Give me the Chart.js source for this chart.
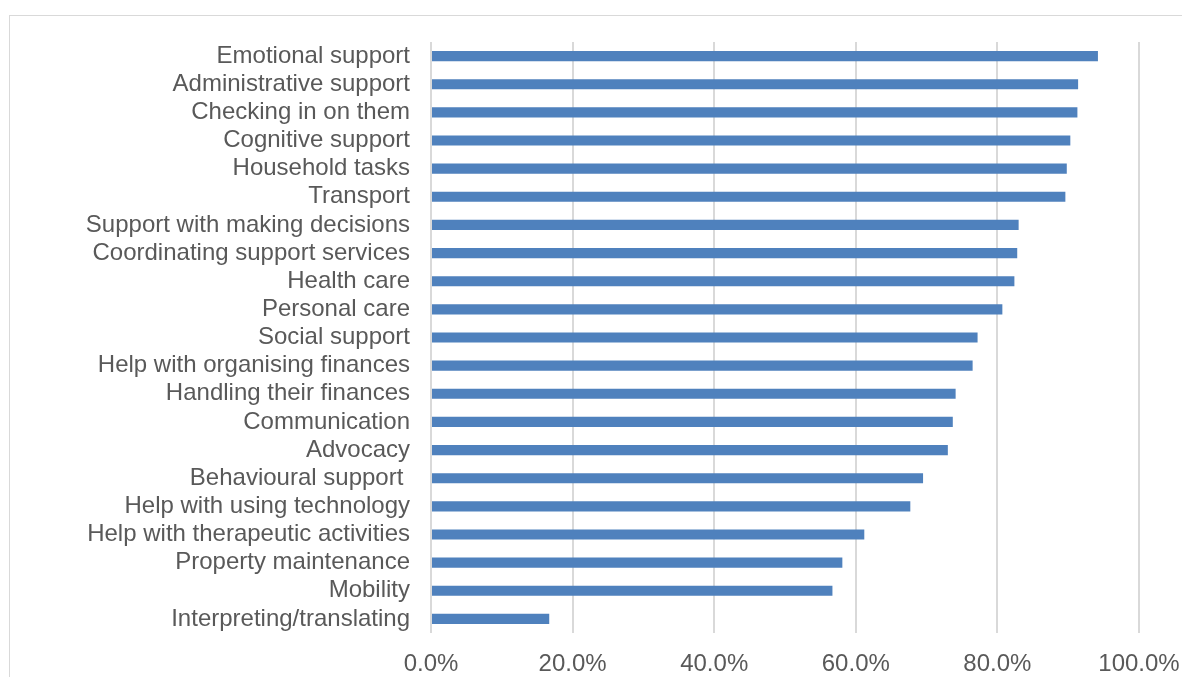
<!DOCTYPE html>
<html>
<head>
<meta charset="utf-8">
<script src="https://cdn.jsdelivr.net/npm/chart.js@4"></script>
<style>
  html, body { margin: 0; padding: 0; background: #fff; overflow: hidden; }
  #frame { position: absolute; left: 9px; top: 15px; width: 1300px; height: 800px; border: 1.5px solid #d9d9d9; }
  #wrap { position: absolute; left: 0; top: 0; width: 1182px; height: 677px; }
</style>
</head>
<body>
<div id="frame"></div>
<div id="wrap"><canvas id="mainChart"></canvas></div>
<script>
// Share of respondents for each kind of support (percent)
const categories = [
    'Emotional support',
    'Administrative support',
    'Checking in on them',
    'Cognitive support',
    'Household tasks',
    'Transport',
    'Support with making decisions',
    'Coordinating support services',
    'Health care',
    'Personal care',
    'Social support',
    'Help with organising finances',
    'Handling their finances',
    'Communication',
    'Advocacy',
    'Behavioural support ',
    'Help with using technology',
    'Help with therapeutic activities',
    'Property maintenance',
    'Mobility',
    'Interpreting/translating'
];
const values = [94.2, 91.4, 91.3, 90.3, 89.8, 89.6, 83.0, 82.8, 82.4, 80.7, 77.2, 76.5, 74.1, 73.7, 73.0, 69.5, 67.7, 61.2, 58.1, 56.7, 16.7];
const xTicks = [0, 20, 40, 60, 80, 100];

const font = { family: "'Liberation Sans', Arial, sans-serif", size: 24 };

const ctx = document.getElementById('mainChart').getContext('2d');
const myChart = new Chart(ctx, {
    type: 'bar',
    data: {
        labels: categories,
        datasets: [{
            data: values,
            backgroundColor: '#4f81bd',
            borderWidth: 0,
            barPercentage: 0.36,
            categoryPercentage: 1
        }]
    },
    options: {
        indexAxis: 'y',
        responsive: true,
        maintainAspectRatio: false,
        animation: false,
        layout: { padding: { top: 42, right: 43, left: 0, bottom: 0 } },
        plugins: { legend: { display: false }, tooltip: { enabled: false } },
        scales: {
            x: {
                min: 0,
                max: 100,
                afterBuildTicks: (axis) => { axis.ticks = xTicks.map(v => ({ value: v })); },
                afterFit: (axis) => {
                    axis.height = 44;
                    axis.paddingLeft = 0;
                    axis.paddingRight = 0;
                },
                grid: { color: '#d9d9d9', lineWidth: 2, drawTicks: false },
                border: { display: false },
                ticks: {
                    color: '#595959',
                    font: font,
                    padding: 17,
                    maxRotation: 0,
                    callback: (v) => v.toFixed(1) + '%'
                }
            },
            y: {
                afterFit: (axis) => { axis.width = 431; },
                grid: { display: false, drawTicks: false },
                border: { display: false },
                ticks: {
                    color: '#595959',
                    font: font,
                    padding: 21,
                    autoSkip: false
                }
            }
        }
    }
});
</script>
</body>
</html>
